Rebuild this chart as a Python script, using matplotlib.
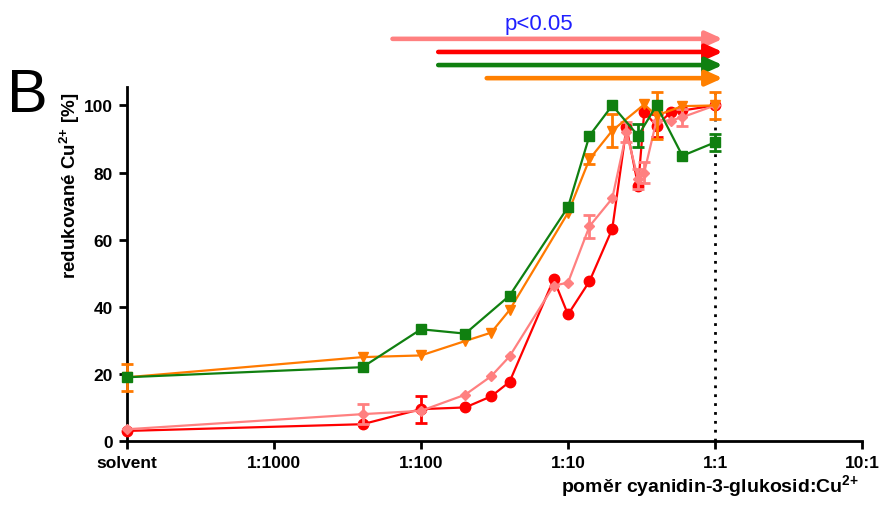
import numpy as np
import matplotlib
matplotlib.use("Agg")
import matplotlib.pyplot as plt
import matplotlib.transforms as mtransforms

plt.rcParams['font.family'] = ['Liberation Sans', 'DejaVu Sans']
plt.rcParams['mathtext.fontset'] = 'custom'
plt.rcParams['mathtext.rm'] = 'Liberation Sans:bold'
plt.rcParams['mathtext.bf'] = 'Liberation Sans:bold'

# solvent is plotted at 1e-4 on the log axis
SOLV = 1e-4

x_green = [SOLV, 0.004, 0.01, 0.02, 0.04, 0.1, 0.14, 0.2, 0.3, 0.4, 0.6, 1.0]
y_green = [19, 22, 33.3, 32, 43.3, 69.7, 91, 100, 91, 100, 85, 89]
e_green = [0, 0, 0, 0, 0, 0, 0, 0, 3.5, 0, 0, 2.5]

x_orange = [SOLV, 0.004, 0.01, 0.02, 0.03, 0.04, 0.1, 0.14, 0.2, 0.33, 0.4, 0.6, 1.0]
y_orange = [19, 25, 25.5, 29.8, 32.3, 39, 68, 84, 92.5, 100.3, 97, 99.8, 100]
e_orange = [4, 0, 0, 0, 0, 0, 0, 1.5, 5, 0, 7, 0, 4]

x_red = [SOLV, 0.004, 0.01, 0.02, 0.03, 0.04, 0.08, 0.1, 0.14, 0.2, 0.25, 0.3, 0.33, 0.4, 0.5, 0.6, 1.0]
y_red = [3, 5, 9.5, 10, 13.3, 17.6, 48.2, 37.7, 47.6, 63.2, 93.5, 76, 98, 94, 98, 98.5, 100]
e_red = [0, 0, 4, 0, 0, 0, 0, 0, 0, 0, 0, 0, 0, 3.5, 0, 0, 0]

x_pink = [SOLV, 0.004, 0.01, 0.02, 0.03, 0.04, 0.08, 0.1, 0.14, 0.2, 0.25, 0.3, 0.33, 0.4, 0.5, 0.6, 1.0]
y_pink = [3.5, 8, 9, 13.8, 19.3, 25.2, 46.3, 47.2, 64, 72.3, 92, 78, 80, 95.5, 95.5, 96.5, 100]
e_pink = [0, 3, 0, 0, 0, 0, 0, 0, 3.5, 0, 3, 3, 3, 0, 0, 2.5, 0]

xticks = [SOLV, 1e-3, 1e-2, 1e-1, 1, 10]
xticklabels = ['solvent', '1:1000', '1:100', '1:10', '1:1', '10:1']
yticks = [0, 20, 40, 60, 80, 100]

# significance arrows: start ratio for each series (end at ~1.1)
arrow_starts = [0.0064, 0.0131, 0.0131, 0.028]
arrow_colors = ['#ff8080', '#ff0000', '#108010', '#ff8000']

c_green = '#108010'
c_orange = '#ff7a00'
c_red = '#ff0000'
c_pink = '#ff8080'

fig = plt.figure(figsize=(8.82, 5.06), dpi=100)
ax = fig.add_axes([127/882, (506-442)/506, (862-127)/882, (442-88)/506])

ax.set_xscale('log')
ax.set_xlim(SOLV, 10)
ax.set_ylim(0, 105.5)

def series(x, y, e, color, marker, ms, z):
    e = np.array(e, dtype=float)
    ax.plot(x, y, color=color, lw=1.6, marker=marker, ms=ms, mec=color, mfc=color, zorder=z,
            clip_on=False)
    mask = e > 0
    eb = ax.errorbar(np.array(x)[mask], np.array(y)[mask], yerr=e[mask], fmt='none',
                     ecolor=color, elinewidth=2, capsize=4, capthick=2, zorder=z)
    for art in list(eb.lines[1]) + list(eb.lines[2]):
        art.set_clip_on(False)

series(x_red, y_red, e_red, c_red, 'o', 7.5, 3)
series(x_pink, y_pink, e_pink, c_pink, 'D', 5, 4)
series(x_orange, y_orange, e_orange, c_orange, 'v', 7, 5)
series(x_green, y_green, e_green, c_green, 's', 7.5, 6)

ax.axvline(1.0, ymin=0, ymax=1, color='black', ls=(0, (1, 2.2)), lw=2, zorder=1)

for s in ['top', 'right']:
    ax.spines[s].set_visible(False)
for s in ['left', 'bottom']:
    ax.spines[s].set_linewidth(2)
    ax.spines[s].set_zorder(0.5)

ax.set_xticks(xticks)
ax.set_xticklabels(xticklabels)
ax.xaxis.set_minor_locator(matplotlib.ticker.NullLocator())
ax.set_yticks(yticks)
ax.tick_params(axis='both', direction='out', width=2, length=6, labelsize=12.5, pad=4)
for lab in ax.get_xticklabels() + ax.get_yticklabels():
    lab.set_fontweight('bold')

ax.set_ylabel('redukované Cu$^{\\mathbf{2}{\\mathbf{+}}}$ [%]', fontsize=13.5, fontweight='bold')
ax.yaxis.set_label_coords(-0.061, 0.725)
fig.text(0.974, 0.012, 'poměr cyanidin-3-glukosid:Cu$^{\\mathbf{2}{\\mathbf{+}}}$', ha='right', va='bottom',
         fontsize=14, fontweight='bold')

fig.text(0.008, 0.752, 'B', fontsize=44, va='bottom')

trans = mtransforms.blended_transform_factory(ax.transData, ax.transAxes)
arrow_y = [1.136, 1.099, 1.062, 1.025]
for xs, col, yy in zip(arrow_starts, arrow_colors, arrow_y):
    ax.annotate('', xy=(1.13, yy), xytext=(xs, yy), xycoords=trans, textcoords=trans,
                arrowprops=dict(arrowstyle='-|>,head_length=1.0,head_width=0.45', color=col, lw=3.3,
                                shrinkA=0, shrinkB=0), annotation_clip=False)
ax.text(0.063, 1.18, 'p<0.05', transform=trans, color='#2020ff', fontsize=16, ha='center', va='center')

fig.savefig('out.png', dpi=100)
